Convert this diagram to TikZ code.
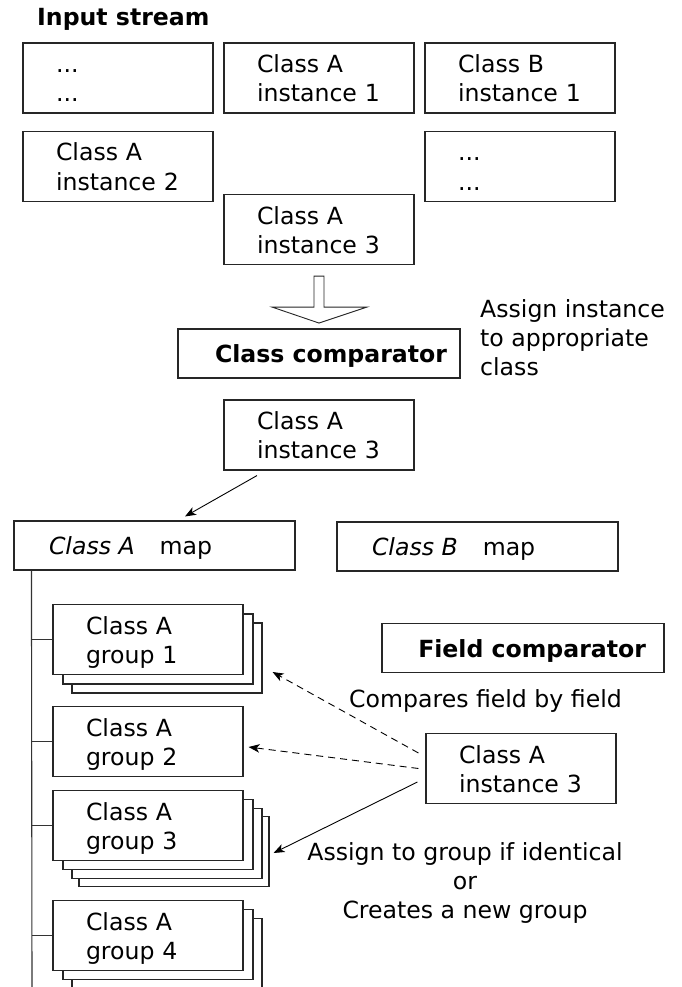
\documentclass[tikz,border=0pt]{standalone}
\usepackage{fontspec}
\setmainfont{DejaVu Sans}
\usetikzlibrary{arrows.meta}

% strut giving every text line the same height and depth (baselineskip 29pt)
\newcommand\lstrut{\rule[-5.5pt]{0pt}{29pt}}
\newcommand\twolines[2]{\lstrut#1\\\lstrut#2}

\tikzset{
  every node/.style={font=\fontsize{23.6pt}{29pt}\selectfont},
  frame/.style={draw=black!85, line width=1.1pt, fill=white},
  box/.style={frame, minimum width=190pt, minimum height=70pt, inner sep=0pt,
              text width=124pt, align=left},
  wide/.style={frame, minimum width=282pt, minimum height=49pt, inner sep=0pt},
  conn/.style={line width=0.9pt, -{Stealth[length=11pt,width=8.5pt,inset=3pt]}},
  dconn/.style={conn, dash pattern=on 7pt off 5pt},
  trunk/.style={draw=black!80, line width=1.1pt},
  note/.style={inner sep=0pt},
}

\begin{document}
\begin{tikzpicture}[x=1pt, y=-1pt]
  \useasboundingbox (0,0) rectangle (681,987);
  \clip (0,0) rectangle (681,987);

  % input stream
  \node[note, anchor=base west, font=\fontsize{23.6pt}{29pt}\selectfont\bfseries]
    (title) at (37,26) {Input stream};
  \node[box] (s1) at (118,78)    {\twolines{...}{...}};
  \node[box] (s2) at (319,78)    {\twolines{Class A}{instance 1}};
  \node[box] (s3) at (520,78)    {\twolines{Class B}{instance 1}};
  \node[box] (s4) at (118,166.5) {\twolines{Class A}{instance 2}};
  \node[box] (s5) at (520,166.5) {\twolines{...}{...}};
  \node[box] (s6) at (319,229.5) {\twolines{Class A}{instance 3}};

  % class comparator
  \node[wide] (cc) at (319,353.5)
    {\makebox[256pt][r]{\lstrut\textbf{Class comparator}}};
  \coordinate (ha) at ([yshift=-11pt]s6.south);
  \draw[frame, line width=0.9pt]
    ([xshift=-5pt]ha) -- ([xshift=5pt]ha) -- ([xshift=5pt,yshift=-31pt]ha)
    -- ([xshift=48pt,yshift=-31pt]ha) -- ([yshift=-47pt]ha)
    -- ([xshift=-47pt,yshift=-31pt]ha) -- ([xshift=-5pt,yshift=-31pt]ha) -- cycle;
  \node[note, anchor=north west, align=left] (assign) at (480,293.5)
    {\lstrut Assign instance\\\lstrut to appropriate\\\lstrut class};

  \node[box] (inst) at (319,435) {\twolines{Class A}{instance 3}};

  % class maps
  \node[wide, minimum width=281pt] (mapA) at (154.5,545.5)
    {\makebox[211pt][l]{\lstrut\textit{Class A}\hspace{25pt}map}};
  \node[wide, minimum width=281pt] (mapB) at (477.5,546.5)
    {\makebox[211pt][l]{\lstrut\textit{Class B}\hspace{25pt}map}};
  \draw[conn] ([xshift=-62pt,yshift=-5pt]inst.south) -- ([xshift=30.5pt,yshift=4pt]mapA.north);

  % groups of class A (stacked copies drawn back to front)
  \node[box] (g1c) at (167,658)    {};
  \node[box] (g1b) at (158,649)    {};
  \node[box] (g1)  at (148,639.5)  {\twolines{Class A}{group 1}};
  \node[box] (g2)  at (148,741.5)  {\twolines{Class A}{group 2}};
  \node[box] (g3d) at (174,851.5)  {};
  \node[box] (g3c) at (167,843.5)  {};
  \node[box] (g3b) at (158,834.5)  {};
  \node[box] (g3)  at (148,825.5)  {\twolines{Class A}{group 3}};
  \node[box] (g4c) at (167,953.5)  {};
  \node[box] (g4b) at (158,944.5)  {};
  \node[box] (g4)  at (148,935.5)  {\twolines{Class A}{group 4}};

  % tree trunk from the class A map to its groups
  \coordinate (trunkend) at (32,990);
  \draw[trunk] ([xshift=18pt]mapA.south west) -- (trunkend);
  \foreach \g in {g1,g2,g3,g4}
    \draw[trunk] (\g.west -| trunkend) -- (\g.west);

  % field comparator
  \node[wide] (fc) at (523,648)
    {\makebox[246pt][r]{\lstrut\textbf{Field comparator}}};
  \node[note, anchor=base west] (cmp) at (349,707) {Compares field by field};
  \node[box] (ir) at (521,768.5) {\twolines{Class A}{instance 3}};
  \node[note, anchor=north, align=center] (rule) at (465,836.5)
    {\lstrut Assign to group if identical\\\lstrut or\\\lstrut Creates a new group};

  \draw[dconn] ([xshift=-7pt,yshift=15.5pt]ir.west) -- ([xshift=29pt,yshift=-32.5pt]g1.east);
  \draw[dconn] ([xshift=-7pt]ir.west) -- ([xshift=5pt,yshift=-5.5pt]g2.east);
  \draw[conn]  ([xshift=-8pt,yshift=-13.5pt]ir.west) -- ([xshift=30pt,yshift=-27.5pt]g3.east);
\end{tikzpicture}
\end{document}
